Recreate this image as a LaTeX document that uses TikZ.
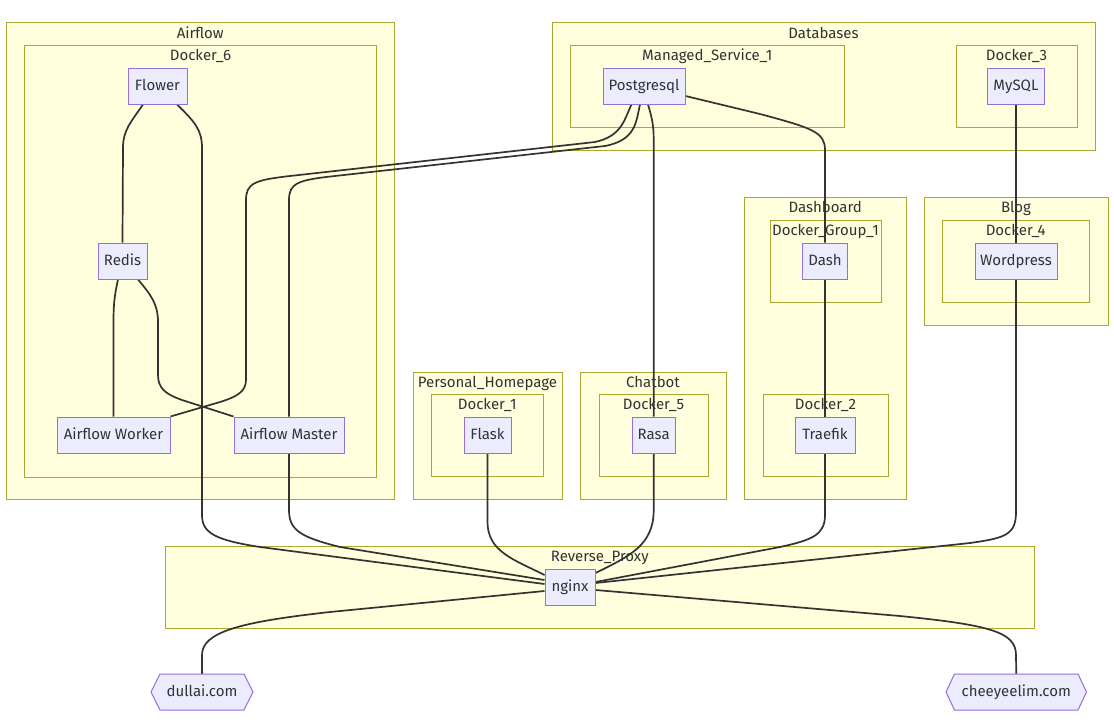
\documentclass[tikz,border=0pt]{standalone}
\usepackage{fontspec}
\setmainfont{Fira Sans}
\usetikzlibrary{fit}
\definecolor{clfill}{HTML}{FFFFDE}
\definecolor{cldraw}{HTML}{AAAA33}
\definecolor{ndfill}{HTML}{ECECFF}
\definecolor{nddraw}{HTML}{9370DB}
\definecolor{txt}{HTML}{333333}
\definecolor{edgec}{HTML}{333333}
\pgfdeclarelayer{bg}
\pgfdeclarelayer{edges}
\pgfsetlayers{bg,edges,main}
\begin{document}
\begin{tikzpicture}[x=1pt,y=-1pt,
  font=\fontsize{15}{17}\selectfont, text=txt,
  clusterbox/.style={draw=cldraw, fill=clfill, line width=1pt, inner sep=0pt},
  clusterlabel/.style={inner sep=0pt, text=txt, text height=1.05em, text depth=0.08em},
  nodebox/.style={draw=nddraw, fill=ndfill, line width=1pt, inner sep=0pt, minimum height=36pt, text height=1.05em, text depth=0.08em},
  hexbox/.style={draw=nddraw, fill=ndfill, line width=1pt},
  hexnode/.style={inner sep=0pt, minimum height=36pt, text height=1.05em, text depth=0.08em},
  edge/.style={draw=edgec, line width=1.7pt}]
\useasboundingbox (0,0) rectangle (1114,728);

\newcommand{\mkcluster}[6]{%
  \node[clusterbox, fit={(#2,#3) (#4,#5)}] (#1) {};
  \node[clusterlabel] (#1-label) at ({(#2+#4)/2},{#3+11}) {#6};}

\begin{pgfonlayer}{bg}
\fill[white] (0,0) rectangle (1114,728);
\mkcluster{airflow}{6}{22.5}{394.5}{499}{Airflow}
\mkcluster{docker6}{24.5}{45}{376.5}{477}{Docker\_6}
\mkcluster{databases}{552}{22.5}{1095}{150.5}{Databases}
\mkcluster{managed}{570.5}{45}{844}{127}{Managed\_Service\_1}
\mkcluster{docker3}{956}{45}{1077}{127}{Docker\_3}
\mkcluster{dashboard}{744.5}{197}{906}{499}{Dashboard}
\mkcluster{dgroup}{770}{220}{881}{302}{Docker\_Group\_1}
\mkcluster{docker2}{763}{394}{888}{476}{Docker\_2}
\mkcluster{blog}{924}{197}{1108}{325}{Blog}
\mkcluster{docker4}{942.5}{220}{1089}{302}{Docker\_4}
\mkcluster{homepage}{413}{372}{562}{499}{Personal\_Homepage}
\mkcluster{docker1}{431.5}{394}{543}{476}{Docker\_1}
\mkcluster{chatbot}{580}{372}{726}{499}{Chatbot}
\mkcluster{docker5}{599}{394}{708}{476}{Docker\_5}
\mkcluster{proxy}{165}{546}{1034.5}{628}{Reverse\_Proxy}
\end{pgfonlayer}

% nodes
\node[nodebox, minimum width=59pt] (flower) at (157.5,86) {Flower};
\node[nodebox, minimum width=49pt] (redis) at (122.5,261) {Redis};
\node[nodebox, minimum width=113pt] (worker) at (113.5,435) {Airflow Worker};
\node[nodebox, minimum width=110pt] (master) at (289,435) {Airflow Master};
\node[nodebox, minimum width=82pt] (pg) at (644,86) {Postgresql};
\node[nodebox, minimum width=57pt] (mysql) at (1016,86) {MySQL};
\node[nodebox, minimum width=45pt] (dash) at (825,261) {Dash};
\node[nodebox, minimum width=82pt] (wordpress) at (1016,261) {Wordpress};
\node[nodebox, minimum width=47pt] (flask) at (487.5,435) {Flask};
\node[nodebox, minimum width=43pt] (rasa) at (653.7,435) {Rasa};
\node[nodebox, minimum width=60pt] (traefik) at (825,435) {Traefik};
\node[nodebox, minimum width=50pt] (nginx) at (570,587) {nginx};
\path[hexbox] (151,692) -- (160,674) -- (244,674) -- (253,692) -- (244,710) -- (160,710) -- cycle;
\node[hexnode, minimum width=102pt] (dullai) at (202,692) {dullai.com};
\path[hexbox] (946,692) -- (954.5,674) -- (1078,674) -- (1086.5,692) -- (1078,710) -- (954.5,710) -- cycle;
\node[hexnode, minimum width=140pt] (cheeyee) at (1016.25,692) {cheeyeelim.com};

\begin{pgfonlayer}{edges}
\path[edge] ([xshift=-14.5pt]flower.south) .. controls (131,122) and (123,130) .. (123,148) -- (redis.north);
\path[edge] ([xshift=19.5pt]flower.south) .. controls (195,122) and (202,130) .. (202,148) -- (202,515) .. controls (202,533) and (215,540) .. (260,547) -- ([yshift=3pt]nginx.west);
\path[edge] ([xshift=-4.5pt]redis.south) .. controls (114,298) and (113.5,305) .. (113.5,325) -- (worker.north);
\path[edge] ([xshift=15.5pt]redis.south) .. controls (152,296) and (158,305) .. (158,322) -- (158,375) .. controls (158,388) and (165,394) .. (182,400) -- (master.north west);
\path[edge] ([xshift=-12.5pt]pg.south) .. controls (624,120) and (622,136) .. (595,142) -- (290,176) .. controls (255,180) and (246,183) .. (246,200) -- (246,380) .. controls (246,392) and (236,397) .. (220,402) -- (worker.north east);
\path[edge] ([xshift=-4pt]pg.south) .. controls (636,122) and (636,140) .. (605,146) -- (335,176) .. controls (298,180) and (289,183) .. (289,200) -- (master.north);
\path[edge] ([xshift=4pt]pg.south) .. controls (652,118) and (653.7,125) .. (653.7,140) -- (rasa.north);
\path[edge] ([yshift=-10pt]pg.east) -- (760,114) .. controls (812,128) and (825,132) .. (825,150) -- (dash.north);
\path[edge] (mysql.south) -- (wordpress.north);
\path[edge] (dash.south) -- (traefik.north);
\path[edge] (master.south) -- (289,510) .. controls (289,530) and (300,537) .. (340,547) -- ([yshift=7pt]nginx.west);
\path[edge] (flask.south) -- (487.5,522) .. controls (487.5,552) and (515,560) .. ([yshift=12pt]nginx.west);
\path[edge] (rasa.south) -- (653.7,510) .. controls (653.7,545) and (630,556) .. ([yshift=14pt]nginx.east);
\path[edge] (traefik.south) -- (825,515) .. controls (825,535) and (812,540) .. (780,547) -- ([yshift=5pt]nginx.east);
\path[edge] (wordpress.south) -- (1016,512) .. controls (1016,535) and (1005,538) .. (970,543) -- ([yshift=4pt]nginx.east);
\path[edge] ([yshift=-4pt]nginx.west) -- (330,612) .. controls (240,622) and (202,632) .. (202,655) -- (dullai.north);
\path[edge] ([yshift=-3pt]nginx.east) -- (900,616) .. controls (990,625) and (1016,632) .. (1016,655) -- (cheeyee.north);
\end{pgfonlayer}
\end{tikzpicture}
\end{document}
